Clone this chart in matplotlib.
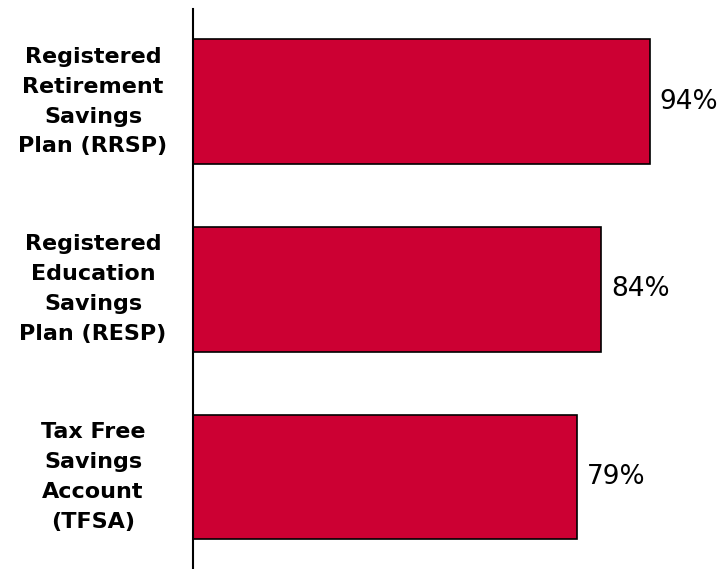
import matplotlib.pyplot as plt
from matplotlib.transforms import blended_transform_factory

categories = [
    "Registered\nRetirement\nSavings\nPlan (RRSP)",
    "Registered\nEducation\nSavings\nPlan (RESP)",
    "Tax Free\nSavings\nAccount\n(TFSA)",
]
values = [94, 84, 79]

fig = plt.figure(figsize=(7.26, 5.69), dpi=100)
ax = fig.add_axes([193 / 726, 0, 1 - 193 / 726, 1 - 9 / 569])

ax.barh(range(len(values)), values, height=0.665, color="#CC0033",
        edgecolor="black", linewidth=1.2)
ax.set_ylim(2.49, -0.493)
ax.set_xlim(0, 533 / 4.86)

for i, v in enumerate(values):
    ax.text(v + 2.0, i, f"{v}%", va="center", ha="left", fontsize=19)

trans = blended_transform_factory(fig.transFigure, ax.transData)
for i, lab in enumerate(categories):
    ax.text(93 / 726, i, lab, transform=trans, ha="center", va="center",
            multialignment="center", fontsize=16, fontweight="bold",
            linespacing=1.62)

for side in ["top", "right", "bottom"]:
    ax.spines[side].set_visible(False)
ax.spines["left"].set_linewidth(1.5)
ax.set_xticks([])
ax.set_yticks([])

fig.savefig("out.png", dpi=100)
